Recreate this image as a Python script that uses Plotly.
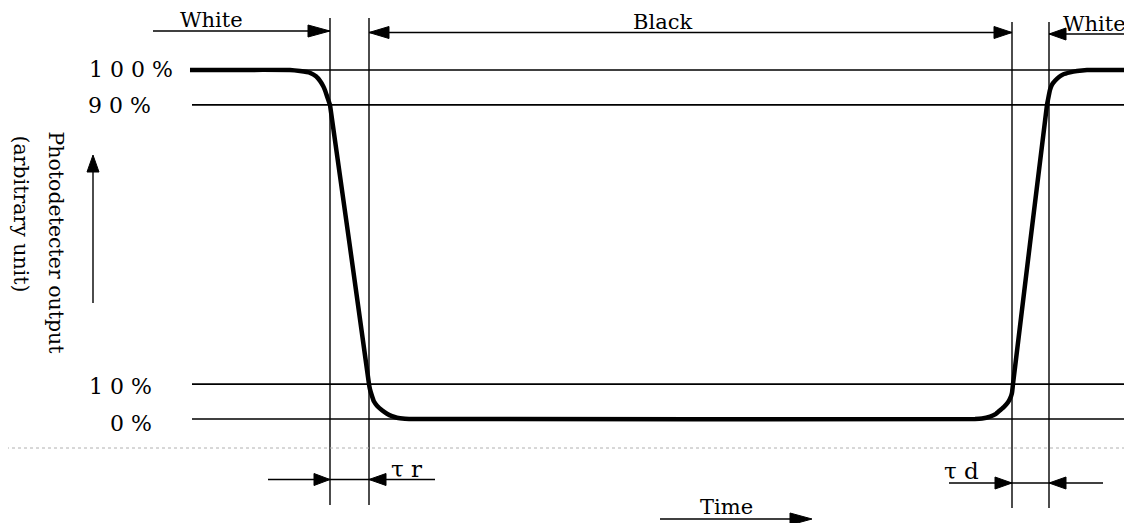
import plotly.graph_objects as go

# ---------------- data ----------------
# photodetector response curve: time (arbitrary, px-like units) and output (%)
time = [190, 290, 300, 310, 316, 320, 323, 325, 327, 329, 330,
        369, 370, 372, 374, 377, 382, 387, 392, 397, 405, 415,
        975, 982, 990, 996, 1000, 1004, 1008, 1011, 1012, 1013,
        1047, 1048, 1050, 1052, 1055, 1059, 1063, 1070, 1077, 1087, 1127]
output = [100, 100, 99.7, 99.2, 98.2, 96.9, 95.5, 94.2, 92.5, 90.8, 90,
          10, 8.5, 6.6, 5.0, 3.8, 2.5, 1.5, 0.8, 0.35, 0.1, 0,
          0, 0.15, 0.7, 1.5, 2.5, 3.5, 4.8, 6.5, 7.5, 10,
          90, 91.5, 94.3, 95.8, 96.9, 98.0, 98.7, 99.3, 99.7, 100, 100]

levels = [100, 90, 10, 0]
level_labels = ["1 0 0 %", "9 0 %", "1 0 %", "0 %"]
marker_times = [330, 369, 1012, 1049]   # 90% fall, 10% fall, 10% rise, 90% rise
phase_labels = ["White", "Black", "White"]
tau_labels = ["\u03c4 r", "\u03c4 d"]
x_label = "Time"
y_label = ["Photodetecter output", "(arbitrary unit)"]

# ---------------- layout helpers ----------------
PAGE_W, PAGE_H = 1132, 523
OFF = 8              # page body margin
W, H = PAGE_W - OFF, PAGE_H - OFF
Y0_PX = 419          # page pixel row of 0 %
PX_PER_PCT = 3.49    # pixels per %


def ypx(p):
    """page pixel row -> data y"""
    return (Y0_PX - p) / PX_PER_PCT


FONT = "DejaVu Serif"
shapes = []
annotations = []


def seg(x0, y0p, x1, y1p, width=1.4, color="black", dash=None):
    ln = dict(color=color, width=width)
    if dash:
        ln["dash"] = dash
    shapes.append(dict(type="line", xref="x", yref="y", x0=x0, x1=x1,
                       y0=ypx(y0p), y1=ypx(y1p), line=ln, layer="above"))


def head_h(tip_x, yp, d, L=19, hw=6):
    """horizontal filled arrowhead; d=+1 points right, -1 points left"""
    bx = tip_x - d * L
    path = (f"M{tip_x},{ypx(yp)} L{bx},{ypx(yp - hw)} "
            f"L{bx},{ypx(yp + hw)} Z")
    shapes.append(dict(type="path", xref="x", yref="y", path=path,
                       fillcolor="black", line=dict(color="black", width=1),
                       layer="above"))


def head_up(x, tip_yp, L=17, hw=6):
    path = (f"M{x},{ypx(tip_yp)} L{x - hw},{ypx(tip_yp + L)} "
            f"L{x + hw},{ypx(tip_yp + L)} Z")
    shapes.append(dict(type="path", xref="x", yref="y", path=path,
                       fillcolor="black", line=dict(color="black", width=1),
                       layer="above"))


def text(x, yp, s, size=21, xanchor="center", yanchor="middle", angle=0):
    annotations.append(dict(x=x, y=ypx(yp), xref="x", yref="y", text=s,
                            showarrow=False, xanchor=xanchor, yanchor=yanchor,
                            textangle=angle,
                            font=dict(family=FONT, size=size, color="black")))


# level lines
for lv in levels:
    shapes.append(dict(type="line", xref="x", yref="y", x0=192, x1=1127,
                       y0=lv, y1=lv, line=dict(color="black", width=1.6),
                       layer="below"))

# vertical marker lines
for i, t in enumerate(marker_times):
    top = 18 if i < 2 else 22
    bot = 505 if i < 2 else 508
    seg(t, top, t, bot, width=1.4)

# faint scan line
seg(0, 448, PAGE_W, 448, width=1, color="#b0b0b0", dash="dot")

# top phase arrows
t1, t2, t3, t4 = marker_times
seg(153, 31, t1, 31)
head_h(t1, 31, +1, L=22)
seg(t2, 32.5, t3, 32.5)
head_h(t2, 32.5, -1, L=20)
head_h(t3, 32.5, +1, L=18)
seg(t4, 34, 1124, 34)
head_h(t4, 34, -1, L=17)

text(211, 20, phase_labels[0])
text(662, 22, phase_labels[1])
text(1094, 24, phase_labels[2])

# bottom tau arrows
seg(268, 479.5, 435, 479.5)
head_h(t1, 479.5, +1, L=16)
head_h(t2, 479.5, -1, L=17)
seg(949, 483, 1103, 483)
head_h(t3, 483, +1, L=17)
head_h(t4, 483, -1, L=17)
text(406, 469, tau_labels[0], size=23)
text(961, 471, tau_labels[1], size=23)

# time arrow
seg(660, 519, 800, 519)
head_h(812, 519, +1, L=22)
text(726, 507, x_label)

# y arrow + label
seg(93, 303, 93, 165)
head_up(93, 155)
text(56, 129, y_label[0], size=20.5, yanchor="top", angle=90)
text(21, 133, y_label[1], size=20.5, yanchor="top", angle=90)

# level labels
text(87, 69.5, level_labels[0], size=22, xanchor="left")
text(86, 105, level_labels[1], size=22, xanchor="left")
text(154, 386, level_labels[2], size=22, xanchor="right")
text(154, 423, level_labels[3], size=22, xanchor="right")

fig = go.Figure()
fig.add_trace(go.Scatter(x=time, y=output, mode="lines",
                         line=dict(color="black", width=4.5, shape="spline",
                                   smoothing=0.3),
                         hoverinfo="skip", showlegend=False))

fig.update_layout(
    width=W, height=H, autosize=False,
    margin=dict(l=0, r=0, t=0, b=0),
    paper_bgcolor="white", plot_bgcolor="white",
    xaxis=dict(range=[OFF, PAGE_W], visible=False, fixedrange=True),
    yaxis=dict(range=[ypx(PAGE_H), ypx(OFF)], visible=False, fixedrange=True),
    shapes=shapes, annotations=annotations, showlegend=False,
)

fig.write_html("out.html")
